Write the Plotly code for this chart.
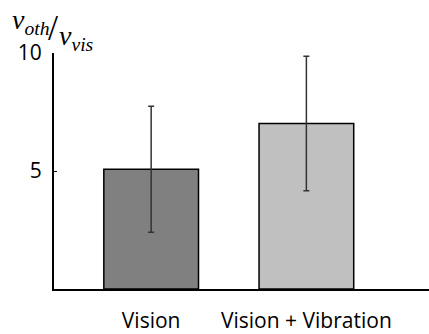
import plotly.graph_objects as go

categories = ["Vision", "Vision + Vibration"]
means = [5.07, 7.01]
errors = [2.67, 2.85]
bar_colors = ["#808080", "#c0c0c0"]
y_tickvals = [5, 10]
y_ticktext = ["5", "10"]

W, H = 429, 334
L, R, T, B = 54, 0, 53, 41
pw, ph = W - L - R, H - T - B

def px(x):
    return (x - L) / pw

def py(y):
    return (H - B - y) / ph

fig = go.Figure()
fig.add_trace(go.Bar(
    x=categories, y=means,
    width=0.61,
    marker=dict(color=bar_colors, line=dict(color="black", width=1.5)),
    error_y=dict(type="data", array=errors, visible=True,
                 color="#333333", thickness=1.5, width=3),
))

font_main = "'Open Sans', Lato, sans-serif"
fig.update_layout(
    width=W, height=H,
    margin=dict(l=L, r=R, t=T, b=B, pad=0),
    plot_bgcolor="white", paper_bgcolor="white",
    showlegend=False,
    xaxis=dict(range=[-0.626, 1.79], showline=True, linecolor="black", linewidth=2,
               ticks="", showgrid=False, zeroline=False,
               tickfont=dict(family=font_main, size=21, color="black"),
               ticklabelstandoff=12),
    yaxis=dict(range=[0, 10], showline=True, linecolor="black", linewidth=2,
               tickvals=y_tickvals, ticktext=y_ticktext,
               ticks="inside", ticklen=3, tickwidth=1, tickcolor="black",
               showgrid=False, zeroline=False,
               tickfont=dict(family=font_main, size=21, color="black"),
               ticklabelstandoff=6),
)

serif = "'Liberation Serif', 'DejaVu Serif', serif"
fig.add_annotation(xref="paper", yref="paper", x=px(30), y=py(21),
                   text="<i>v</i><sub><i>oth</i></sub>", showarrow=False,
                   font=dict(family=serif, size=28, color="black"),
                   xanchor="center", yanchor="middle")
fig.add_annotation(xref="paper", yref="paper", x=px(53), y=py(28),
                   text="/", showarrow=False,
                   font=dict(family=serif, size=36, color="black"),
                   xanchor="center", yanchor="middle")
fig.add_annotation(xref="paper", yref="paper", x=px(76), y=py(37),
                   text="<i>v</i><sub><i>vis</i></sub>", showarrow=False,
                   font=dict(family=serif, size=28, color="black"),
                   xanchor="center", yanchor="middle")

fig.write_html("out.html")
